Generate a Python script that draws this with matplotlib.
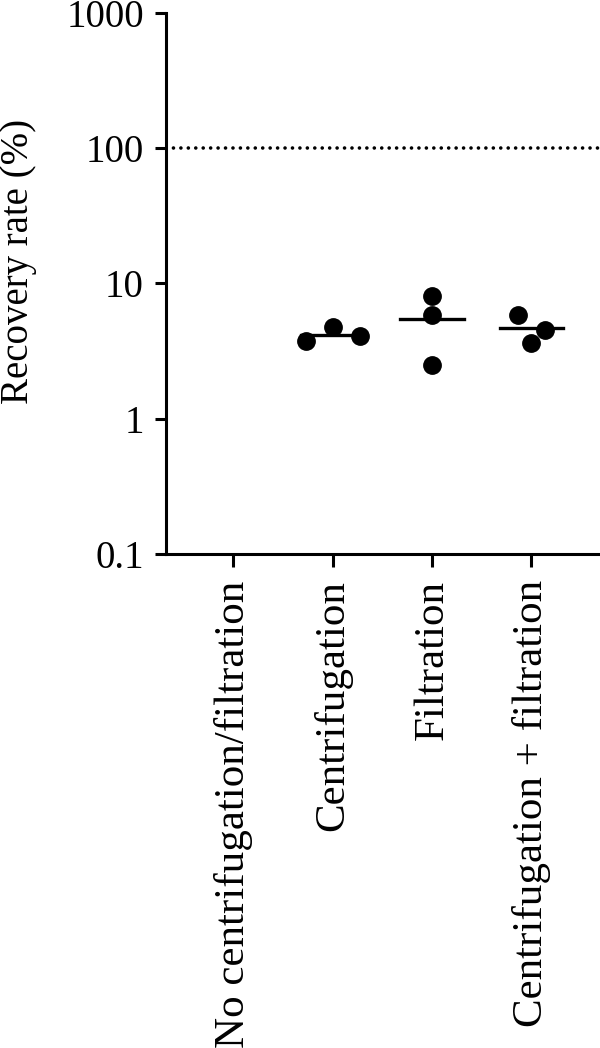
import matplotlib
matplotlib.use("Agg")
import matplotlib.pyplot as plt
import numpy as np

plt.rcParams["font.family"] = ["Liberation Serif", "DejaVu Serif"]

categories = ["No centrifugation/filtration", "Centrifugation",
              "Filtration", "Centrifugation + filtration"]
# replicate recovery rates (%) per group; first group has no data
values = [
    [],
    [3.73, 4.76, 4.06],
    [8.02, 5.87, 2.51],
    [5.80, 4.55, 3.63],
]
x_offsets = [
    [],
    [-0.27, 0.0, 0.27],
    [0.0, 0.0, 0.0],
    [-0.14, 0.14, 0.0],
]
reference_level = 100

fig = plt.figure(figsize=(6.0, 10.48), dpi=100)
ax = fig.add_axes([0.277, 0.4714, 0.723, 0.5162])

for i, (vals, offs) in enumerate(zip(values, x_offsets)):
    if not vals:
        continue
    xs = i + np.array(offs)
    ax.plot(xs, vals, "o", color="black", markersize=12.5, zorder=3)
    mean = np.mean(vals)
    ax.plot([i - 0.32, i + 0.32], [mean, mean], color="black", lw=2.4, zorder=2)

ax.axhline(reference_level, color="black", lw=2.6, linestyle=(0, (0.01, 2.05)),
           dash_capstyle="round")

ax.set_yscale("log")
ax.set_ylim(0.1, 1000)
ax.set_xlim(-0.677, 3.69)
ax.set_yticks([0.1, 1, 10, 100, 1000])
ax.set_yticklabels(["0.1", "1", "10", "100", "1000"])
ax.yaxis.set_minor_locator(matplotlib.ticker.NullLocator())
ax.set_xticks(range(len(categories)))
ax.set_xticklabels(categories, rotation=90, va="top", ha="center", fontsize=31)

for side in ["top", "right"]:
    ax.spines[side].set_visible(False)
for side in ["left", "bottom"]:
    ax.spines[side].set_linewidth(2.2)
ax.tick_params(axis="both", width=2.2, length=8)
ax.tick_params(axis="y", labelsize=28, pad=8)
ax.tick_params(axis="x", length=9, pad=10)
ax.set_ylabel("Recovery rate (%)", fontsize=28)
ax.yaxis.set_label_coords(-0.297, 0.54)

fig.savefig("out.png", dpi=100)
